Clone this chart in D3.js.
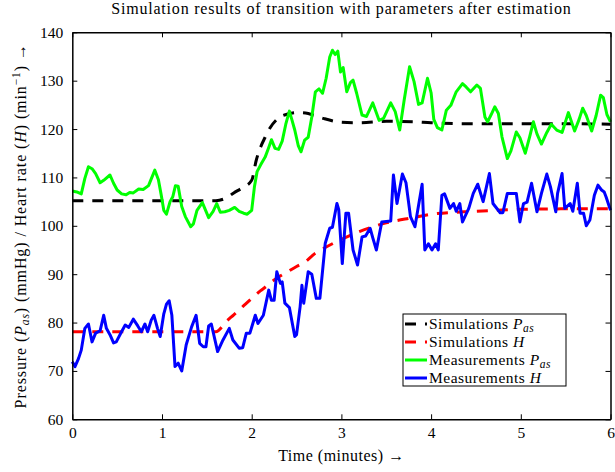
<!DOCTYPE html>
<html>
<head>
<meta charset="utf-8">
<script src="https://cdn.jsdelivr.net/npm/d3@7"></script>
<style>
  body { margin: 0; background: #fff; }
  svg { display: block; font-family: "Liberation Serif", serif; }
  .axis text { font-size: 15.5px; fill: #000; }
  .axis path, .axis line { stroke: #000; }
  .label { letter-spacing: 0.5px; }
</style>
</head>
<body>
<div id="chart"></div>
<script>
// simulation curves (minutes, value)
const simTime = [0, 1.6, 1.72, 1.8, 1.9, 2.0, 2.05, 2.1, 2.15, 2.2, 2.3, 2.4, 2.5, 2.6, 2.7, 2.8, 3.0, 3.2, 3.5, 3.8, 4.0, 4.5, 5.0, 5.5, 6.0];
const simPas = [105.2, 105.2, 105.8, 106.8, 107.9, 109.4, 113.5, 116.3, 118.3, 120.1, 122.3, 123.1, 123.4, 123.3, 122.8, 122.2, 121.4, 121.3, 121.6, 121.5, 121.3, 121.1, 121.1, 121.1, 121.0];
const simH = [78.1, 78.1, 80.3, 81.6, 83.3, 85.0, 85.8, 86.6, 87.3, 88.1, 89.4, 90.5, 91.6, 92.6, 94.2, 95.3, 97.2, 98.8, 100.6, 101.7, 102.4, 103.0, 103.4, 103.5, 103.5];

// measured arterial pressure
const measPasTime = [0, 0.05, 0.1, 0.14, 0.18, 0.22, 0.26, 0.31, 0.35, 0.42, 0.46, 0.5, 0.55, 0.6, 0.64, 0.68, 0.74, 0.79, 0.85, 0.92, 0.96, 0.99, 1.02, 1.05, 1.09, 1.12, 1.15, 1.18, 1.22, 1.26, 1.32, 1.35, 1.39, 1.45, 1.52, 1.57, 1.61, 1.65, 1.7, 1.75, 1.81, 1.86, 1.91, 1.95, 2.0, 2.03, 2.06, 2.1, 2.15, 2.19, 2.22, 2.26, 2.3, 2.34, 2.38, 2.42, 2.45, 2.48, 2.52, 2.55, 2.59, 2.63, 2.67, 2.71, 2.75, 2.79, 2.83, 2.87, 2.9, 2.93, 2.96, 2.99, 3.02, 3.06, 3.1, 3.13, 3.17, 3.23, 3.28, 3.35, 3.42, 3.47, 3.55, 3.6, 3.65, 3.7, 3.76, 3.81, 3.86, 3.9, 3.96, 4.0, 4.03, 4.07, 4.12, 4.17, 4.22, 4.28, 4.35, 4.39, 4.44, 4.51, 4.55, 4.6, 4.63, 4.67, 4.71, 4.75, 4.79, 4.85, 4.89, 4.95, 4.99, 5.05, 5.1, 5.14, 5.18, 5.23, 5.29, 5.34, 5.4, 5.46, 5.53, 5.6, 5.65, 5.69, 5.73, 5.79, 5.84, 5.89, 5.92, 5.96, 6.0];
const measPas = [107.2, 107.0, 106.6, 109.8, 112.2, 111.8, 110.8, 108.9, 109.4, 110.5, 108.8, 107.4, 106.6, 106.4, 106.9, 106.8, 107.6, 107.5, 108.3, 111.5, 109.5, 106.5, 103.2, 102.4, 105, 106, 108.3, 108.2, 104, 101.9, 99.8, 100.4, 103.2, 104.8, 101.7, 103, 104.6, 102.8, 102.9, 103.2, 103.8, 103, 102.6, 102.4, 103.2, 108, 111.2, 112.6, 114.2, 116.2, 117.8, 116, 115.8, 117.5, 121, 123.7, 121.8, 119.8, 116.5, 115.3, 117.7, 118.3, 122.5, 127.7, 128.3, 127.4, 130.5, 134.9, 136.3, 135.4, 136.1, 131.8, 132.7, 127.7, 129.6, 130.1, 127.4, 122.9, 122.6, 125.4, 121.8, 122.2, 125.4, 123.6, 119.8, 126, 132.9, 129.8, 125.1, 125.4, 130.5, 127.5, 122, 120.3, 119.8, 123.9, 124.9, 127.7, 129.4, 128.7, 127.7, 129.1, 128.4, 122.5, 121.5, 123, 124.6, 123.2, 118.4, 113.9, 115.5, 119.4, 118.2, 115, 118.5, 121.5, 119, 116.9, 119.3, 121, 119.8, 119.3, 123.4, 119.6, 122, 124.3, 122.8, 119.6, 122.8, 127, 126.5, 123, 121.5];

// measured heart rate
const measHTime = [0, 0.03, 0.07, 0.1, 0.14, 0.18, 0.22, 0.26, 0.31, 0.35, 0.38, 0.42, 0.46, 0.49, 0.54, 0.59, 0.63, 0.68, 0.73, 0.77, 0.81, 0.84, 0.88, 0.91, 0.95, 0.98, 1.02, 1.05, 1.08, 1.11, 1.145, 1.18, 1.22, 1.27, 1.33, 1.38, 1.42, 1.46, 1.49, 1.52, 1.55, 1.62, 1.68, 1.75, 1.79, 1.86, 1.9, 1.94, 1.98, 2.04, 2.07, 2.13, 2.19, 2.22, 2.25, 2.28, 2.32, 2.34, 2.37, 2.42, 2.48, 2.5, 2.54, 2.56, 2.58, 2.63, 2.67, 2.72, 2.76, 2.82, 2.87, 2.9, 2.95, 2.97, 3.01, 3.05, 3.08, 3.13, 3.18, 3.23, 3.27, 3.32, 3.35, 3.39, 3.45, 3.55, 3.58, 3.62, 3.68, 3.72, 3.77, 3.82, 3.9, 3.93, 3.97, 4.01, 4.05, 4.08, 4.12, 4.15, 4.21, 4.25, 4.28, 4.32, 4.35, 4.42, 4.47, 4.52, 4.58, 4.65, 4.69, 4.77, 4.8, 4.85, 4.89, 4.95, 4.99, 5.03, 5.07, 5.12, 5.18, 5.23, 5.29, 5.33, 5.39, 5.41, 5.46, 5.49, 5.55, 5.58, 5.63, 5.66, 5.7, 5.73, 5.77, 5.82, 5.86, 5.9, 5.93, 5.95, 6.0];
const measH = [71.9, 70.9, 72.6, 74.3, 78.8, 79.7, 76, 77.8, 78.3, 81.5, 78.8, 77.5, 75.8, 76, 77.8, 79.5, 79, 80.7, 79.3, 78.1, 79.7, 78.1, 80.5, 81.5, 78.8, 77.1, 81.8, 83.8, 84.5, 81.5, 70.9, 71.6, 70.0, 75.4, 79.1, 81.5, 75.7, 75, 75, 79.3, 79.7, 74, 76.4, 78.8, 76.4, 74.7, 74.8, 77.8, 77.8, 81.5, 79.8, 81.5, 86.7, 84.6, 84.6, 90.5, 88.1, 88.4, 84, 83.1, 77.1, 77.5, 83.3, 87.7, 84, 90.5, 90, 85, 85, 96.4, 99.5, 99.7, 104.6, 103.4, 92.2, 102.6, 102.6, 95, 91.9, 97.7, 97.9, 99.5, 97.5, 95, 100.8, 101, 110.5, 104.6, 110.7, 108.9, 101.9, 99.8, 108.6, 95, 96.3, 95, 96.3, 95, 106.3, 106.6, 103.6, 104.6, 103, 104.6, 100.8, 103.6, 106.7, 108.6, 105, 110.8, 104.6, 102.7, 102.7, 106.7, 106.7, 106.7, 100.8, 104.6, 104.9, 108.8, 102.9, 106.7, 110.7, 108.1, 102.9, 106.7, 110.8, 103.6, 104.6, 103, 108.8, 102.6, 102.6, 100, 101.2, 106.3, 108.4, 107.4, 107, 106, 103.2];

const xTicks = [0, 1, 2, 3, 4, 5, 6];
const yTicks = [60, 70, 80, 90, 100, 110, 120, 130, 140];

const width = 615, height = 472;
const margin = { top: 32.3, right: 4.5, bottom: 52.7, left: 72.3 };
const innerW = width - margin.left - margin.right;
const innerH = height - margin.top - margin.bottom;

const svg = d3.select('#chart').append('svg')
  .attr('width', width)
  .attr('height', height);

const g = svg.append('g')
  .attr('transform', `translate(${margin.left},${margin.top})`);

const x = d3.scaleLinear().domain([0, 6]).range([0, innerW]);
const y = d3.scaleLinear().domain([60, 140]).range([innerH, 0]);

// lines, drawn in legend order
const line = d3.line().x(d => x(d[0])).y(d => y(d[1]));
const zip = (ts, vs) => ts.map((t, i) => [t, vs[i]]);

const series = [
  { data: zip(simTime, simPas), color: '#000', dash: '11,9', curve: d3.curveMonotoneX },
  { data: zip(simTime, simH), color: '#f00', dash: '11,9', curve: d3.curveMonotoneX },
  { data: zip(measPasTime, measPas), color: '#0f0', dash: null, curve: d3.curveLinear },
  { data: zip(measHTime, measH), color: '#00f', dash: null, curve: d3.curveLinear }
];

const plot = g.append('g');
series.forEach(s => {
  plot.append('path')
    .attr('d', line.curve(s.curve)(s.data))
    .attr('fill', 'none')
    .attr('stroke', s.color)
    .attr('stroke-width', 3)
    .attr('stroke-linejoin', 'round')
    .attr('stroke-dasharray', s.dash);
});

// axes with inward ticks on all four sides
g.append('g').attr('class', 'axis')
  .attr('transform', `translate(0,${innerH})`)
  .call(d3.axisBottom(x).tickValues(xTicks).tickFormat(d3.format('d')).tickSizeInner(-5).tickSizeOuter(0).tickPadding(8));
g.append('g').attr('class', 'axis')
  .call(d3.axisTop(x).tickValues(xTicks).tickSizeInner(-5).tickSizeOuter(0).tickFormat(''));
g.append('g').attr('class', 'axis')
  .call(d3.axisLeft(y).tickValues(yTicks).tickSizeInner(-5).tickSizeOuter(0).tickPadding(9));
g.append('g').attr('class', 'axis')
  .attr('transform', `translate(${innerW},0)`)
  .call(d3.axisRight(y).tickValues(yTicks).tickSizeInner(-5).tickSizeOuter(0).tickFormat(''));

g.selectAll('.axis path').attr('stroke-width', 1.5);
g.selectAll('.axis line').attr('stroke-width', 1);
g.selectAll('.axis text').attr('font-family', '"Liberation Serif", serif');

// title
svg.append('text')
  .attr('x', margin.left + innerW / 2)
  .attr('y', 14)
  .attr('text-anchor', 'middle')
  .attr('font-size', 16)
  .attr('letter-spacing', '0.8px')
  .text('Simulation results of transition with parameters after estimation');

// x label
svg.append('text')
  .attr('class', 'label')
  .attr('x', margin.left + innerW / 2)
  .attr('y', 461)
  .attr('text-anchor', 'middle')
  .attr('font-size', 16)
  .text('Time (minutes) \u2192');

// y label
const yl = svg.append('text')
  .attr('transform', `translate(26,${margin.top + innerH / 2}) rotate(-90)`)
  .attr('text-anchor', 'middle')
  .attr('letter-spacing', '0.9px')
  .attr('font-size', 16);
yl.append('tspan').text('Pressure (');
yl.append('tspan').attr('font-style', 'italic').text('P');
yl.append('tspan').attr('font-style', 'italic').attr('font-size', 11.5).attr('dy', 3).text('as');
yl.append('tspan').attr('dy', -3).text(') (mmHg) / Heart rate (');
yl.append('tspan').attr('font-style', 'italic').text('H');
yl.append('tspan').text(') (min');
yl.append('tspan').attr('font-size', 11.5).attr('dy', -6).text('\u22121');
yl.append('tspan').attr('dy', 6).text(') \u2192');

// legend
const legendNames = ['Simulations', 'Simulations', 'Measurements', 'Measurements'];
const legendSymbols = [['P', 'as'], ['H', ''], ['P', 'as'], ['H', '']];
const legend = svg.append('g').attr('transform', 'translate(403,314)');
legend.append('rect')
  .attr('width', 163).attr('height', 72)
  .attr('fill', '#fff').attr('stroke', '#000').attr('stroke-width', 1);
series.forEach((s, i) => {
  const ly = 10 + i * 18;
  legend.append('line')
    .attr('x1', 2).attr('x2', 24).attr('y1', ly).attr('y2', ly)
    .attr('stroke', s.color).attr('stroke-width', 3)
    .attr('stroke-dasharray', s.dash);
  const t = legend.append('text')
    .attr('class', 'label')
    .attr('x', 26).attr('y', ly + 5)
    .attr('font-size', 15.5);
  t.append('tspan').text(legendNames[i] + ' ');
  t.append('tspan').attr('font-style', 'italic').text(legendSymbols[i][0]);
  if (legendSymbols[i][1]) {
    t.append('tspan').attr('font-style', 'italic').attr('font-size', 11.5).attr('dy', 3).text(legendSymbols[i][1]);
  }
});
</script>
</body>
</html>
